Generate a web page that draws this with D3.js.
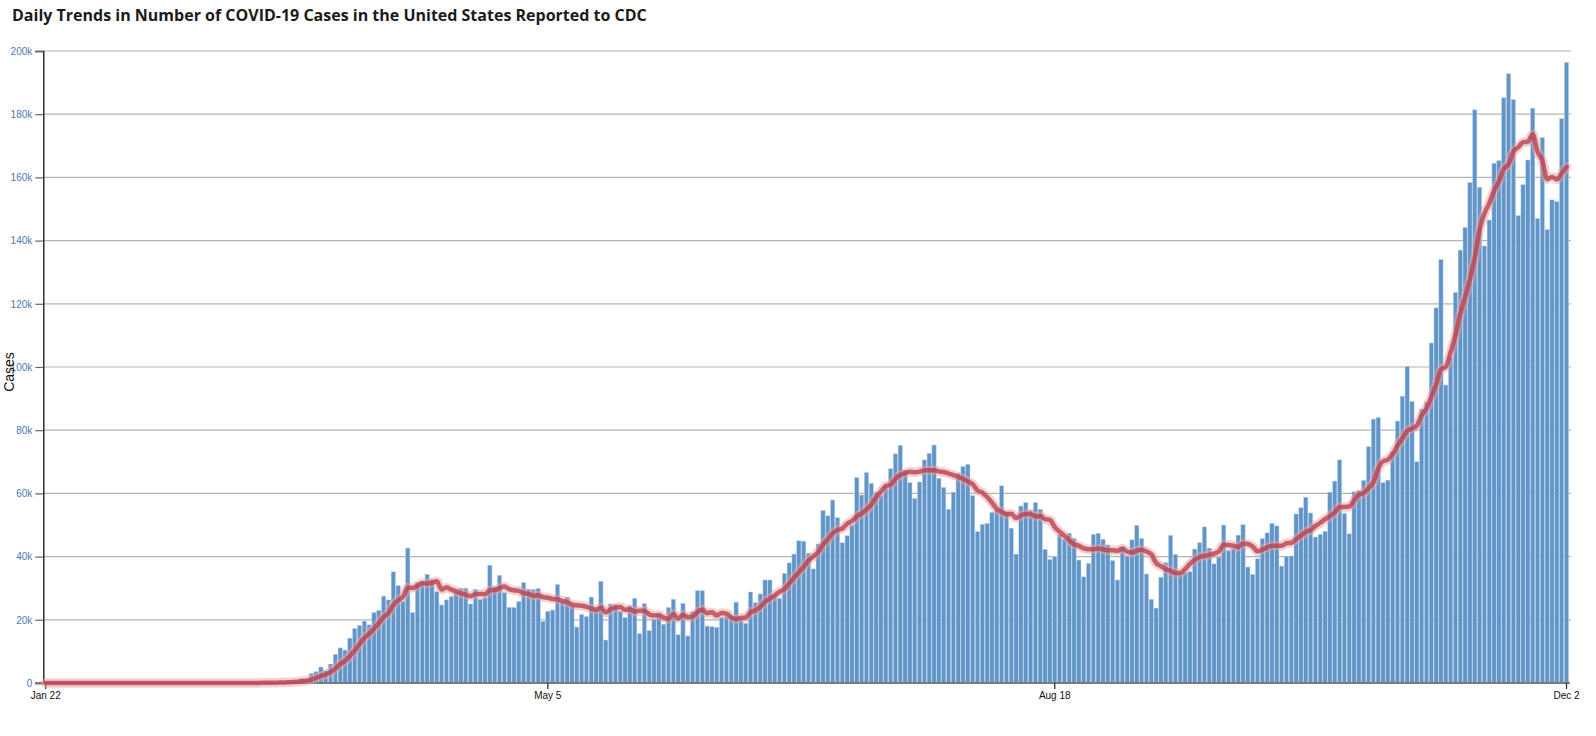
<!DOCTYPE html>
<html>
<head>
<meta charset="utf-8">
<script src="https://cdn.jsdelivr.net/npm/d3@7"></script>
<style>
  html, body { margin: 0; padding: 0; background: #ffffff; }
  svg { display: block; }
</style>
</head>
<body>
<svg id="chart" width="1596" height="736"></svg>
<script>
// ---------------- DATA (daily new cases, 2020) ----------------
const startDate = "2020-01-22";
const endDate = "2020-12-02";
const casesJan = [1,0,0,1,1,0,0,0,0,1];
const casesFeb = [0,0,1,0,0,0,1,0,0,2,1,0,0,0,0,0,0,0,0,0,0,1,0,0,4,2,3,5,8];
const casesMar = [12,20,25,38,54,70,95,130,180,250,320,480,640,820,1350,1100,
  3060,3600,5060,3900,6000,9100,11100,10400,14200,17200,18200,19600,18400,22300,23000];
const casesApr = [27500,26300,35200,30800,25900,42700,22300,31900,32300,34400,32800,28900,24700,26300,27400,
  28600,30000,30000,25000,29600,26500,27000,37300,30500,34100,28600,23900,23900,25800,31800];
const casesMay = [29700,29600,29900,19500,22700,23100,31200,25700,27200,24400,17700,21700,21000,27200,22900,
  32200,13600,25000,24900,22700,20700,24400,26800,15600,25200,16600,20200,21700,18600,23900,26500];
const casesJun = [15300,25200,14900,22600,29200,29200,18000,17800,17600,20700,21100,21000,25600,20500,18900,
  28800,25400,28200,32600,32600,27600,26800,34700,38000,40800,45000,44900,41100,36100,44000];
const casesJul = [54600,52900,57900,52300,44400,46600,50000,65000,59500,66600,63200,60400,59400,62300,67800,
  72500,75200,67400,63400,58400,63600,70600,72700,75300,64800,61900,55000,60400,66400,68500,69200];
const casesAug = [59300,47900,50200,50500,54000,54700,62400,54200,49000,40800,56000,57100,54700,57100,55000,
  42300,39100,40000,47000,45500,47400,45800,38900,33600,37900,47000,47400,45500,43700,38700,32600];
const casesSep = [43000,40200,45300,49900,45700,34500,26500,23700,33500,38100,46700,40700,34700,34900,35200,
  42400,44400,49400,42700,37700,39800,50000,41900,42600,46800,50100,36700,34400,39300,45700];
const casesOct = [47500,50500,49700,37000,40000,40200,53500,55500,58800,53800,46200,47000,48000,60400,63900,
  70600,53700,47200,60500,60900,64100,74800,83500,84000,63400,64200,73200,82900,90800,100200,89100];
const casesNov = [70000,86700,88900,107600,118700,134000,94300,103000,123600,137000,144200,158400,181400,156900,138300,
  146500,164500,165300,185200,192800,184600,147900,157700,165500,181900,147000,172600,143500,152900,152300];
const casesDec = [178600,196400];

const xTickDates = ["2020-01-22","2020-05-05","2020-08-18","2020-12-02"];
const xTickLabels = ["Jan 22","May 5","Aug 18","Dec 2"];
const yTickValues = [0,20000,40000,60000,80000,100000,120000,140000,160000,180000,200000];

const titleText = "Daily Trends in Number of COVID-19 Cases in the United States Reported to CDC";
const yLabelText = "Cases";

// ---------------- BUILD ----------------
const cases = [].concat(casesJan, casesFeb, casesMar, casesApr, casesMay, casesJun,
                        casesJul, casesAug, casesSep, casesOct, casesNov, casesDec);
const parse = d3.utcParse("%Y-%m-%d");
const fmtKey = d3.utcFormat("%Y-%m-%d");
const dates = d3.utcDay.range(parse(startDate), d3.utcDay.offset(parse(endDate), 1)).map(fmtKey);
const rows = dates.map((k, i) => ({ key: k, value: cases[i] }));
// 7-day trailing moving average of the reported daily values
rows.forEach((r, i) => {
  const win = cases.slice(Math.max(0, i - 6), i + 1);
  r.avg = d3.mean(win);
});

const svg = d3.select("#chart");
const plotLeft = 43.3, plotRight = 1568.9, plotTop = 51, plotBottom = 683;

const x = d3.scaleBand()
  .domain(dates)
  .range([plotLeft, plotRight])
  .paddingInner(0.12)
  .paddingOuter(0.06);
const y = d3.scaleLinear().domain([0, 200000]).range([plotBottom, plotTop]);
const bw = x.bandwidth();

// Title
svg.append("text")
  .attr("x", 12).attr("y", 21)
  .attr("font-family", "'Open Sans', 'Noto Sans', sans-serif")
  .attr("font-weight", 700)
  .attr("font-size", 16)
  .attr("fill", "#1b1b1b")
  .text(titleText);

// Gridlines
svg.append("g")
  .selectAll("line")
  .data(yTickValues.filter(v => v > 0))
  .join("line")
  .attr("x1", plotLeft).attr("x2", plotRight + 2)
  .attr("y1", d => y(d)).attr("y2", d => y(d))
  .attr("stroke", "#b4b4b4")
  .attr("stroke-width", 1.2);

// Bars
svg.append("g")
  .selectAll("rect")
  .data(rows)
  .join("rect")
  .attr("x", d => x(d.key))
  .attr("width", bw)
  .attr("y", d => y(d.value))
  .attr("height", d => y(0) - y(d.value))
  .attr("fill", "#6195c7")
  .attr("stroke", "#b9d2ea")
  .attr("stroke-width", 0.5);

// Y axis
const yAxis = d3.axisLeft(y)
  .tickValues(yTickValues)
  .tickFormat(d3.format("~s"))
  .tickSize(8)
  .tickPadding(3);
const gy = svg.append("g")
  .attr("transform", `translate(${plotLeft},0)`)
  .call(yAxis);
gy.select(".domain").attr("stroke", "#111").attr("stroke-width", 1.3);
gy.selectAll(".tick line").attr("stroke", "#666").attr("stroke-width", 1.2);
gy.selectAll(".tick text")
  .attr("fill", "#4f78b4")
  .attr("font-family", "'Liberation Sans', Arial, sans-serif")
  .attr("font-size", 10);

// X axis
const xAxis = d3.axisBottom(x)
  .tickValues(xTickDates)
  .tickFormat(d => xTickLabels[xTickDates.indexOf(d)])
  .tickSize(6)
  .tickSizeOuter(0)
  .tickPadding(3);
const gx = svg.append("g")
  .attr("transform", `translate(0,${plotBottom})`)
  .call(xAxis);
gx.select(".domain").attr("stroke", "#7a7a7a").attr("stroke-width", 2)
  .attr("d", `M${plotLeft - 8},0H${plotRight + 1}`);
gx.selectAll(".tick line").attr("stroke", "#333").attr("stroke-width", 1.3);
gx.selectAll(".tick text")
  .attr("fill", "#111")
  .attr("font-family", "'Liberation Sans', Arial, sans-serif")
  .attr("font-size", 10);

// Moving average line (halo + core)
const line = d3.line()
  .x(d => x(d.key) + bw / 2)
  .y(d => y(d.avg))
  .curve(d3.curveMonotoneX);
svg.append("path")
  .datum(rows)
  .attr("d", line)
  .attr("fill", "none")
  .attr("stroke", "#eaa1a8")
  .attr("stroke-opacity", 0.5)
  .attr("stroke-width", 9.5)
  .attr("stroke-linejoin", "round")
  .attr("stroke-linecap", "round");
svg.append("path")
  .datum(rows)
  .attr("d", line)
  .attr("fill", "none")
  .attr("stroke", "#b8414e")
  .attr("stroke-opacity", 0.8)
  .attr("stroke-width", 4.5)
  .attr("stroke-linejoin", "round")
  .attr("stroke-linecap", "round");

// Y label
svg.append("text")
  .attr("transform", `translate(14,372) rotate(-90)`)
  .attr("text-anchor", "middle")
  .attr("font-family", "'Liberation Sans', Arial, sans-serif")
  .attr("font-size", 14)
  .attr("fill", "#111")
  .text(yLabelText);
</script>
</body>
</html>
